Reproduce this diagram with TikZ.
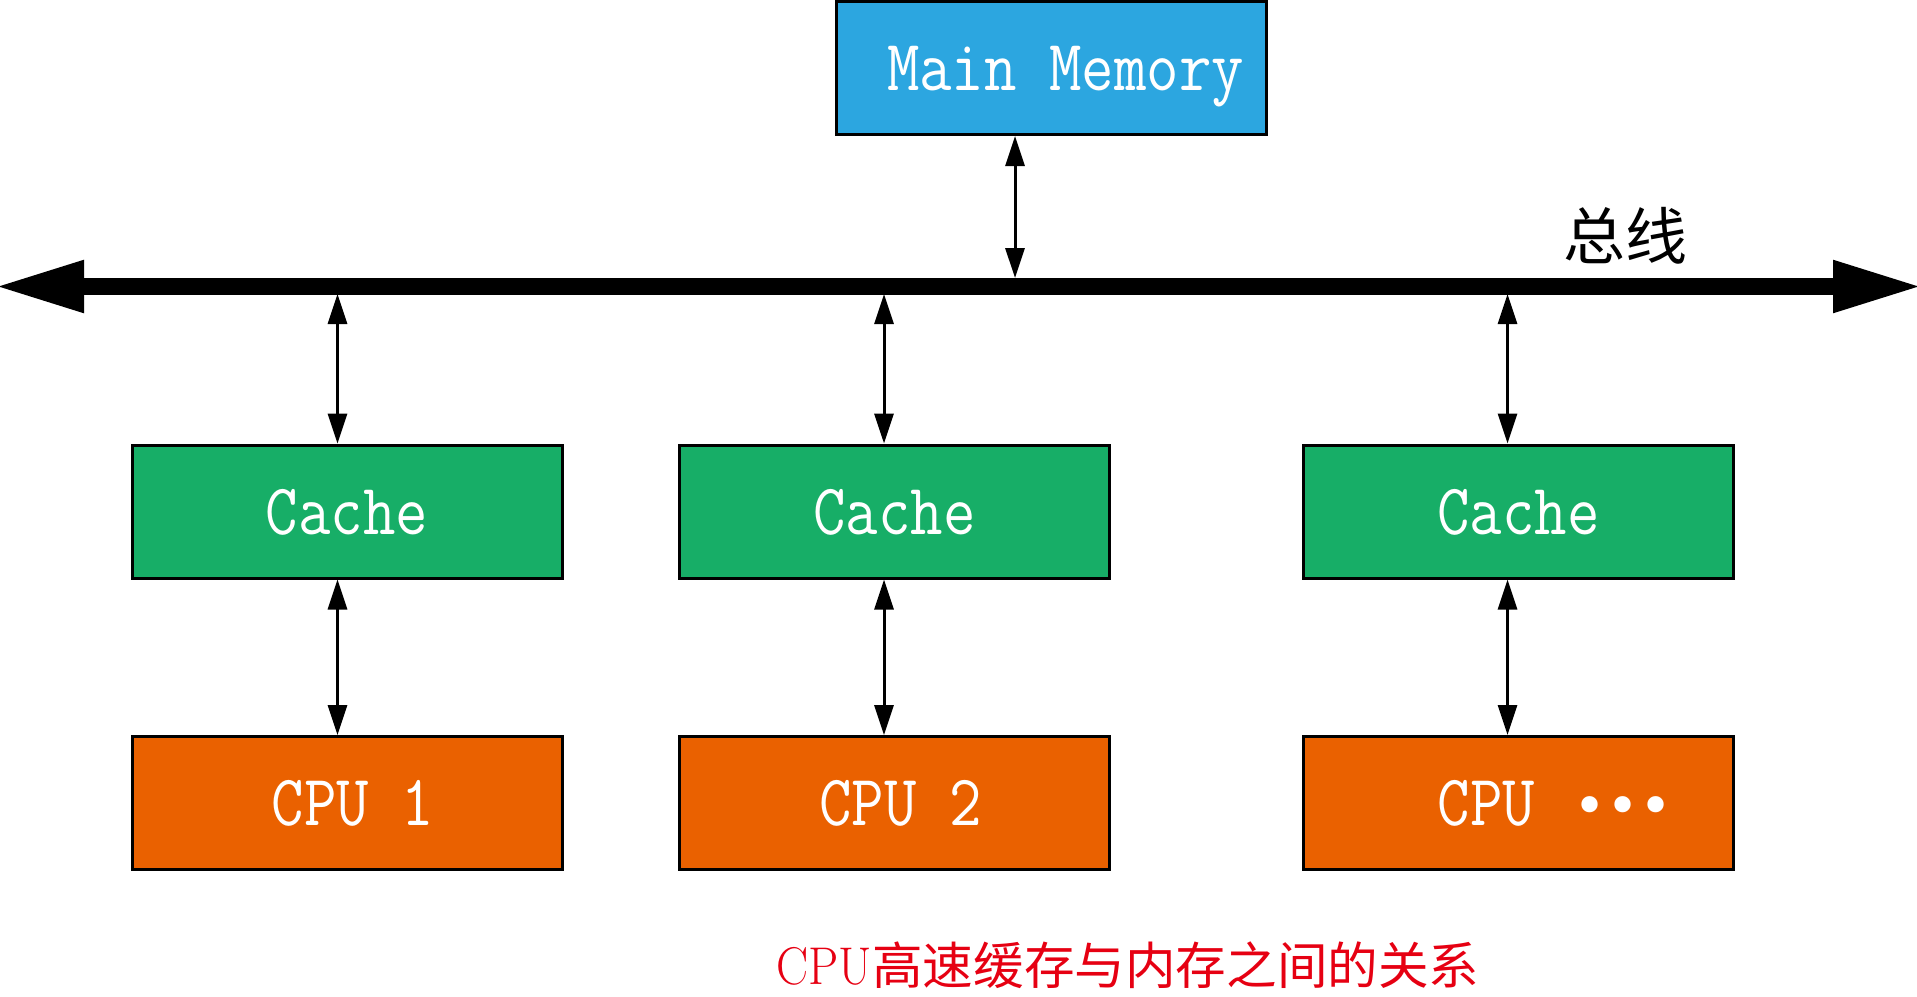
\documentclass[tikz,border=0pt]{standalone}
\usepackage{fontspec}
\usepackage{graphicx}
\usetikzlibrary{arrows.meta}
\newfontfamily\cjk{Noto Sans CJK SC}
\newfontfamily\dotfont{DejaVu Sans}
\definecolor{memfill}{HTML}{2CA6E0}
\definecolor{cachefill}{HTML}{17AE67}
\definecolor{cpufill}{HTML}{EA6100}
\definecolor{capred}{HTML}{E60012}
\newcommand{\tall}[1]{\scalebox{1}[1.15]{#1}}
\tikzset{
  unitbox/.style={draw, line width=1.5pt, minimum width=215pt, minimum height=66.5pt,
                  inner sep=0pt, text depth=0pt, text=white, font=\ttfamily\fontsize{31.5}{36}\selectfont},
  memnode/.style={unitbox, fill=memfill},
  cachenode/.style={unitbox, fill=cachefill},
  cpunode/.style={unitbox, fill=cpufill},
  link/.style={line width=1.5pt, {Triangle[length=15pt,width=9.5pt]}-{Triangle[length=15pt,width=9.5pt]}},
  busline/.style={line width=8.5pt, {Triangle[length=45pt,width=24pt]}-{Triangle[length=45pt,width=24pt]}},
}

\begin{document}
\begin{tikzpicture}[x=0.5pt, y=-0.5pt]
    \useasboundingbox (0,0) rectangle (1917,996);
    \node[memnode] (mem) at (1051.5,68) {\tall{\hspace*{14pt}Main Memory}};
    \node[cachenode] (cache1) at (347,511.5) {\tall{Cache}};
    \node[cachenode] (cache2) at (894.5,511.5) {\tall{Cache}};
    \node[cachenode] (cache3) at (1518.5,511.5) {\tall{Cache}};
    \node[cpunode] (cpu1) at (347,803) {\hspace*{6pt}\tall{CPU 1}};
    \node[cpunode] (cpu2) at (894.5,803) {\hspace*{6pt}\tall{CPU 2}};
    \node[cpunode] (cpu3) at (1518.5,803) {\hspace*{36.5pt}\tall{CPU}\hspace{19pt}{\dotfont\fontsize{28}{28}\selectfont •••}};
    \coordinate (busL) at (-6,286.5);
    \coordinate (busR) at (1923,286.5);
    \draw[busline] (busL) -- (busR);
    \node[font=\cjk\fontsize{31}{31}\selectfont] (buslabel) at (1625,236) {总线};
    \coordinate (tap0) at (1015,278);
    \coordinate (tap1) at (337.5,294);
    \coordinate (tap2) at (884,294);
    \coordinate (tap3) at (1507.5,294);
    \draw[link] (tap0 |- mem.south) -- (tap0);
    \draw[link] (tap1) -- (tap1 |- cache1.north);
    \draw[link] (tap2) -- (tap2 |- cache2.north);
    \draw[link] (tap3) -- (tap3 |- cache3.north);
    \draw[link] (tap1 |- cache1.south) -- (tap1 |- cpu1.north);
    \draw[link] (tap2 |- cache2.south) -- (tap2 |- cpu2.north);
    \draw[link] (tap3 |- cache3.south) -- (tap3 |- cpu3.north);
    \node[text=capred, font=\fontsize{25.3}{28}\selectfont] (caption) at (1128,965)
      {\scalebox{0.95}[1.05]{CPU}{\cjk 高速缓存与内存之间的关系}};
\end{tikzpicture}
\end{document}
